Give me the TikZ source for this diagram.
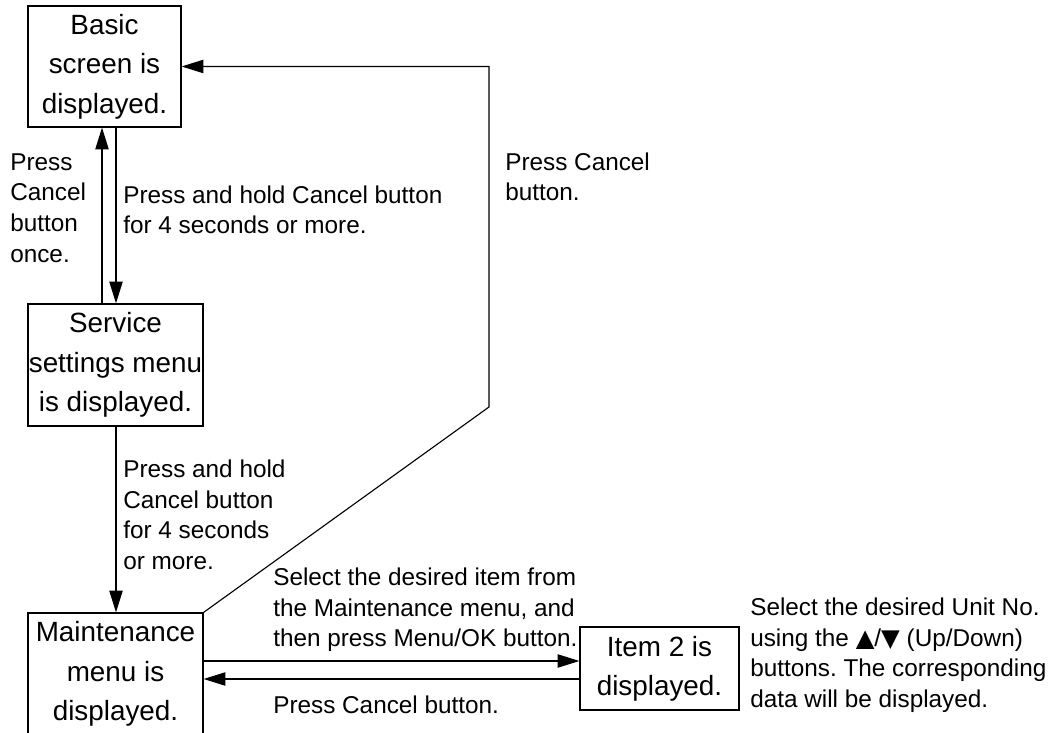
\documentclass[tikz,border=0pt]{standalone}
\usepackage{fontspec}
\setmainfont{Liberation Sans}
\newfontfamily\symfont{DejaVu Sans}
\usetikzlibrary{arrows.meta,calc}
\frenchspacing

\begin{document}
\begin{tikzpicture}[
    screen/.style={draw, line width=0.9pt, inner sep=0pt, align=center,
                   minimum width=4.375cm, minimum height=3.05cm,
                   font=\fontsize{19.8}{28}\selectfont},
    note/.style={inner sep=0pt, align=left, anchor=west,
                 font=\fontsize{17.3}{21.7}\selectfont},
    arr/.style={-{Triangle[length=15.5pt, width=9.5pt]}, line width=0.8pt}
]
\useasboundingbox (0,0) rectangle (26.5,18.3);

% screens
\node[screen, minimum width=3.825cm, minimum height=3.025cm] (basic) at (2.6125,16.6375) {Basic\\screen is\\displayed.};
\node[screen] (svc) at (2.8875,9.175) {Service\\settings menu\\is displayed.};
\node[screen] (maint) at (2.8875,1.45) {Maintenance\\menu is\\displayed.};
\node[screen, minimum width=3.975cm, minimum height=2.075cm] (item) at (16.4875,1.5875) {Item 2 is\\displayed.};

% helper points
\coordinate (upx) at (2.55,0);
\coordinate (dnx) at (2.9,0);
\coordinate (hi) at (0,1.775);
\coordinate (lo) at (0,1.325);
\coordinate (bend) at (12.225,8.125);

% connectors
\draw[arr] (svc.north -| upx) -- (basic.south -| upx);
\draw[arr] (basic.south -| dnx) -- (svc.north -| dnx);
\draw[arr] (svc.south -| dnx) -- (maint.north -| dnx);
\draw[arr] (maint.east |- hi) -- (item.west |- hi);
\draw[arr] (item.west |- lo) -- (maint.east |- lo);
\draw[arr] (maint.north east) -- (bend) -- (bend |- basic.east) -- (basic.east);

% labels
\node[note] (once) at (0.25,13.1) {Press\\Cancel\\button\\once.};
\node[note] (hold) at (3.075,13.05) {Press and hold Cancel button\\for 4 seconds or more.};
\node[note] (back) at (12.625,13.875) {Press Cancel\\button.};
\node[note] (hold2) at (3.075,5.425) {Press and hold\\Cancel button\\for 4 seconds\\or more.};
\node[note] (select) at (6.825,3.05) {Select the desired item from\\the Maintenance menu, and\\then press Menu/OK button.};
\node[note] (cancel) at (6.825,0.675) {Press Cancel button.};
\node[note] (unit) at (18.75,1.925) {Select the desired Unit No.\\using the {\symfont ▲}/{\symfont ▼} (Up/Down)\\buttons. The corresponding\\data will be displayed.};
\end{tikzpicture}
\end{document}
